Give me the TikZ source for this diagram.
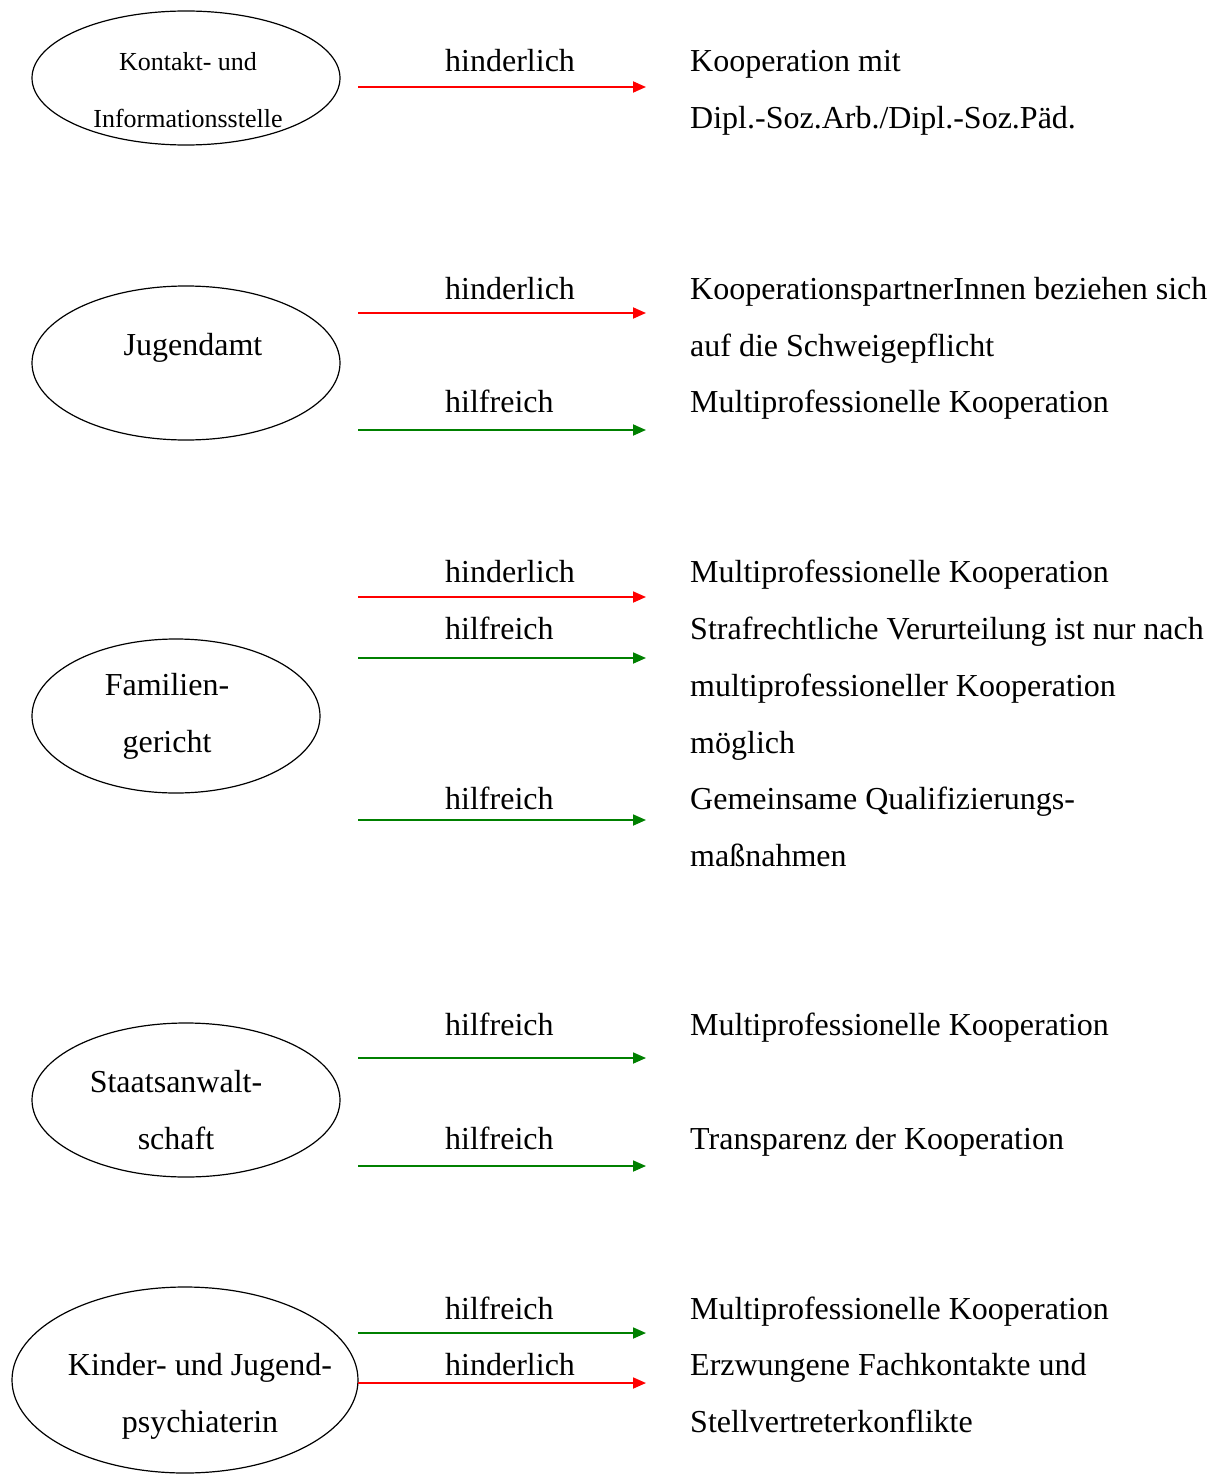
\documentclass[tikz,border=0pt]{standalone}
\usepackage{fontspec}
\setmainfont{Liberation Serif}
\usetikzlibrary{shapes.geometric,arrows.meta}

\begin{document}
\begin{tikzpicture}[x=1pt, y=-1pt,
    oval/.style = {draw, ellipse, line width=1.2pt, inner sep=0pt},
    otxt/.style = {align=center, anchor=base, inner sep=0pt, font=\fontsize{32}{57}\selectfont},
    lbl/.style = {anchor=base west, inner sep=0pt, font=\fontsize{32}{57}\selectfont},
    txt/.style = {align=left, anchor=base west, inner sep=0pt, font=\fontsize{32}{57}\selectfont},
    link/.style = {line width=1.8pt, -{Triangle[length=13pt,width=11pt]}}]
    \useasboundingbox (0,0) rectangle (1220,1474);

    % institutions (multi-line texts sit on the baseline of their last line)
    \node[oval, minimum width=308pt, minimum height=134pt] (kis) at (186,78) {};
    \node[oval, minimum width=308pt, minimum height=154pt] (jug) at (186,363) {};
    \node[oval, minimum width=288pt, minimum height=154pt] (fam) at (176,716) {};
    \node[oval, minimum width=308pt, minimum height=154pt] (sta) at (186,1100) {};
    \node[oval, minimum width=346pt, minimum height=186pt] (kjp) at (185,1380) {};

    \node[otxt, font=\fontsize{26}{57}\selectfont] (kis-t) at (188,128) {Kontakt- und\\Informationsstelle};
    \node[otxt] (jug-t) at (193,355) {Jugendamt};
    \node[otxt] (fam-t) at (167,752) {Familien-\\gericht};
    \node[otxt] (sta-t) at (176,1149) {Staatsanwalt-\\schaft};
    \node[otxt] (kjp-t) at (200,1432) {Kinder- und Jugend-\\psychiaterin};

    % arrows
    \foreach \n/\y/\c in {1/87/red, 2/313/red, 3/430/green!50!black, 4/597/red,
                          5/658/green!50!black, 6/820/green!50!black, 7/1058/green!50!black,
                          8/1166/green!50!black, 9/1333/green!50!black, 10/1383/red} {
        \coordinate (s\n) at (358,\y);
        \coordinate (e\n) at (646,\y);
        \draw[link, \c] (s\n) -- (e\n);
    }

    \foreach \n/\y/\t in {1/72/hinderlich, 2/299/hinderlich, 3/412/hilfreich, 4/582/hinderlich,
                          5/639/hilfreich, 6/809/hilfreich, 7/1035/hilfreich, 8/1149/hilfreich,
                          9/1319/hilfreich, 10/1375/hinderlich}
        \node[lbl] (l\n) at (445,\y) {\t};

    % results
    \node[txt] (r1) at (690,129) {Kooperation mit\\Dipl.-Soz.Arb./Dipl.-Soz.Päd.};
    \node[txt] (r2) at (690,356) {KooperationspartnerInnen beziehen sich\\auf die Schweigepflicht};
    \node[txt] (r3) at (690,412) {Multiprofessionelle Kooperation};
    \node[txt] (r4) at (690,582) {Multiprofessionelle Kooperation};
    \node[txt] (r5) at (690,753) {Strafrechtliche Verurteilung ist nur nach\\multiprofessioneller Kooperation\\möglich};
    \node[txt] (r6) at (690,866) {Gemeinsame Qualifizierungs-\\maßnahmen};
    \node[txt] (r7) at (690,1035) {Multiprofessionelle Kooperation};
    \node[txt] (r8) at (690,1149) {Transparenz der Kooperation};
    \node[txt] (r9) at (690,1319) {Multiprofessionelle Kooperation};
    \node[txt] (r10) at (690,1432) {Erzwungene Fachkontakte und\\Stellvertreterkonflikte};
\end{tikzpicture}
\end{document}
